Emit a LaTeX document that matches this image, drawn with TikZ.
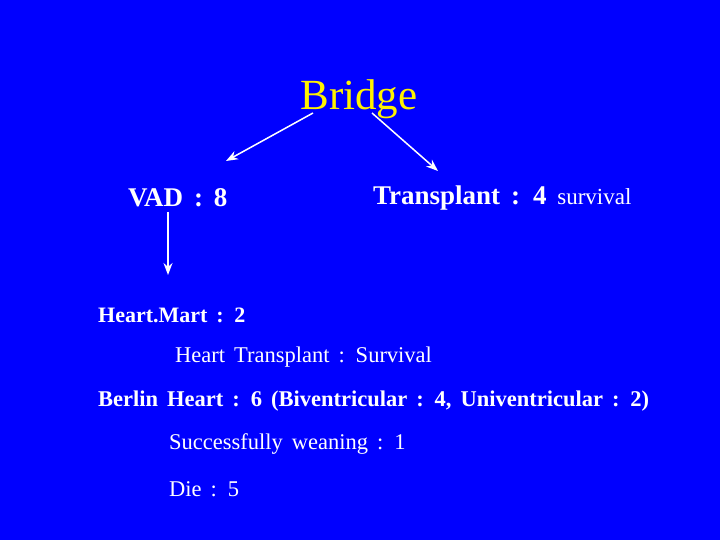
\documentclass[tikz,border=0pt]{standalone}
\usepackage{fontspec}
\setmainfont{Liberation Serif}[WordSpace={1.6,1,1}]
\usetikzlibrary{arrows.meta}
\begin{document}
\begin{tikzpicture}[x=1pt,y=-1pt,
  txt/.style={text=white,inner sep=0pt,anchor=west},
  arr/.style={white,line width=1.5pt,-{Stealth[length=12pt,width=9pt]}}]
\fill[blue] (0,0) rectangle (720,540);
\useasboundingbox (0,0) rectangle (720,540);
\node[text=yellow,inner sep=0pt,font=\fontsize{43}{47}\selectfont] (br) at (359,99) {Bridge};
\node[txt,font=\fontsize{27}{31}\selectfont\bfseries] (vad) at (128,198) {VAD : 8};
\node[txt,font=\fontsize{27}{31}\selectfont] (tr) at (373,198) {\textbf{Transplant : 4} {\fontsize{23}{26}\selectfont survival}};
\node[txt,font=\fontsize{22}{25}\selectfont\bfseries] (hm) at (98,315) {Heart.Mart : 2};
\node[txt,font=\fontsize{22.5}{25}\selectfont] (ht) at (175,357) {Heart Transplant : Survival};
\node[txt,font=\fontsize{22.5}{25}\selectfont\bfseries] (bh) at (98,401) {Berlin Heart : 6 (Biventricular : 4, Univentricular : 2)};
\node[txt,font=\fontsize{22.5}{25}\selectfont] (sw) at (169,444) {Successfully weaning : 1};
\node[txt,font=\fontsize{22.5}{25}\selectfont] (die) at (169,489) {Die : 5};
\coordinate (a1) at (313,113); \coordinate (b1) at (226,161);
\coordinate (a2) at (372,113); \coordinate (b2) at (438,171);
\coordinate (a3) at (168,212); \coordinate (b3) at (168,275);
\draw[arr] (a1) -- (b1);
\draw[arr] (a2) -- (b2);
\draw[arr] (a3) -- (b3);
\end{tikzpicture}
\end{document}
